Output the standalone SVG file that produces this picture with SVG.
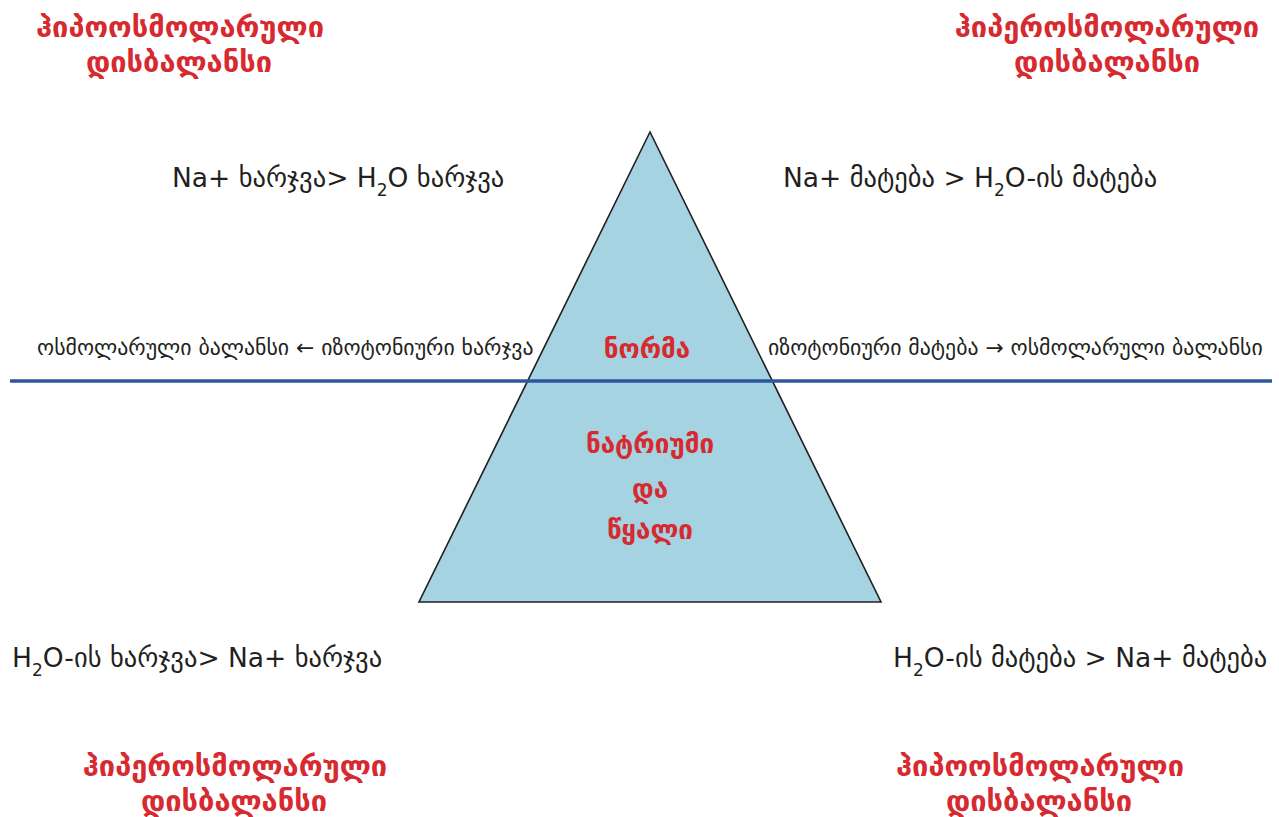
<svg xmlns="http://www.w3.org/2000/svg" width="1279" height="817" viewBox="0 0 1279 817">
  <style>
    .title { font-family: "DejaVu Sans", sans-serif; font-weight: bold; font-size: 29px; fill: #d62a30; text-anchor: middle; }
    .inner { font-family: "DejaVu Sans", sans-serif; font-weight: bold; font-size: 26px; fill: #d62a30; text-anchor: middle; }
    .label { font-family: "DejaVu Sans", sans-serif; font-size: 26.5px; fill: #231f20; }
    .side { font-family: "DejaVu Sans", sans-serif; font-size: 21.8px; fill: #231f20; }
    .sub { font-size: 17px; }
  </style>
  <rect width="1279" height="817" fill="#ffffff"/>

  <g id="pyramid">
    <polygon points="650,132 419,602 881,602" fill="#a5d3e1" stroke="#231f20" stroke-width="1.6" stroke-linejoin="miter"/>
  </g>

  <g id="connectors">
    <line x1="10" y1="381" x2="1272" y2="381" stroke="#2c579f" stroke-width="3.5"/>
  </g>

  <g id="hypo-top-left">
    <text class="title" x="180" y="37">ჰიპოოსმოლარული</text>
    <text class="title" x="179" y="72">დისბალანსი</text>
  </g>
  <g id="hyper-top-right">
    <text class="title" x="1107" y="37">ჰიპეროსმოლარული</text>
    <text class="title" x="1107" y="72">დისბალანსი</text>
  </g>
  <g id="hyper-bottom-left">
    <text class="title" x="235" y="776">ჰიპეროსმოლარული</text>
    <text class="title" x="234" y="811">დისბალანსი</text>
  </g>
  <g id="hypo-bottom-right">
    <text class="title" x="1040" y="776">ჰიპოოსმოლარული</text>
    <text class="title" x="1039" y="811">დისბალანსი</text>
  </g>

  <g id="loss-na">
    <text class="label" x="172" y="187">Na+ ხარჯვა&gt; H<tspan class="sub" dy="9">2</tspan><tspan dy="-9">O ხარჯვა</tspan></text>
  </g>
  <g id="gain-na">
    <text class="label" x="783" y="187">Na+ მატება &gt; H<tspan class="sub" dy="9">2</tspan><tspan dy="-9">O-ის მატება</tspan></text>
  </g>
  <g id="loss-water">
    <text class="label" x="12" y="667">H<tspan class="sub" dy="9">2</tspan><tspan dy="-9">O-ის ხარჯვა&gt; Na+ ხარჯვა</tspan></text>
  </g>
  <g id="gain-water">
    <text class="label" x="893" y="667">H<tspan class="sub" dy="9">2</tspan><tspan dy="-9">O-ის მატება &gt; Na+ მატება</tspan></text>
  </g>

  <g id="isotonic-loss">
    <text class="side" x="37" y="355">ოსმოლარული ბალანსი ← იზოტონიური ხარჯვა</text>
  </g>
  <g id="isotonic-gain">
    <text class="side" x="768" y="355">იზოტონიური მატება → ოსმოლარული ბალანსი</text>
  </g>

  <g id="norm">
    <text class="inner" x="647" y="358">ნორმა</text>
  </g>
  <g id="sodium-water">
    <text class="inner" x="650" y="453">ნატრიუმი</text>
    <text class="inner" x="650" y="498">და</text>
    <text class="inner" x="650" y="539">წყალი</text>
  </g>
</svg>
